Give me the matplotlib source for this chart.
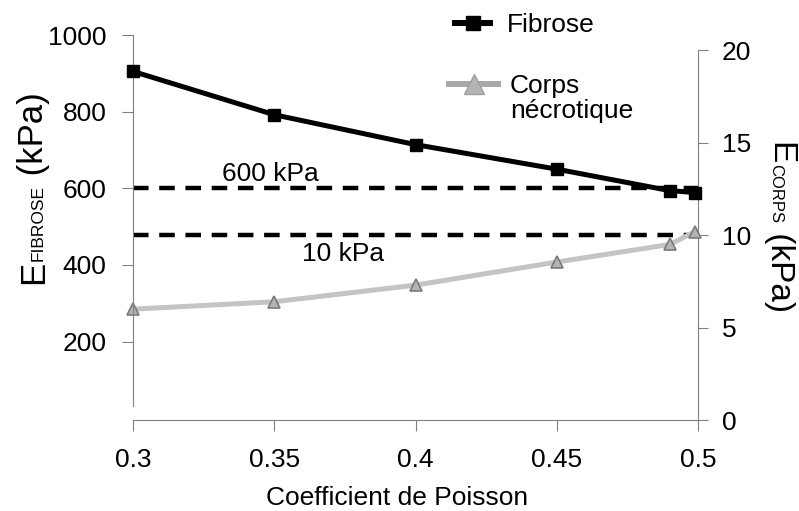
import matplotlib
matplotlib.use('Agg')
import matplotlib.pyplot as plt
from matplotlib.lines import Line2D

plt.rcParams['font.family'] = ['Liberation Sans', 'DejaVu Sans']

# ---- data ----
poisson = [0.3, 0.35, 0.4, 0.45, 0.49, 0.499]
e_fibrose = [905, 792, 714, 650, 594, 589]       # kPa, left axis
e_corps = [6.0, 6.4, 7.3, 8.55, 9.5, 10.2]       # kPa, right axis
seuil_fibrose = 600
seuil_corps = 10
x_ticks = [0.3, 0.35, 0.4, 0.45, 0.5]
x_tick_labels = ['0.3', '0.35', '0.4', '0.45', '0.5']
left_ticks = [200, 400, 600, 800, 1000]
right_ticks = [0, 5, 10, 15, 20]
x_range = (0.3, 0.5)

W, H = 799, 511
fig = plt.figure(figsize=(W / 100, H / 100), dpi=100)


def fx(px):
    return px / W


def fy(py):
    return (H - py) / H


L, R = 133, 698
gray = '#808080'
fs = 19

ax_r = fig.add_axes([fx(L), fy(420), fx(R) - fx(L), fy(50.5) - fy(420)])
ax_l = fig.add_axes([fx(L), fy(418.3), fx(R) - fx(L), fy(35) - fy(418.3)])
ax_l.patch.set_visible(False)

for ax in (ax_r, ax_l):
    ax.set_xlim(*x_range)
ax_r.set_ylim(0, 20)
ax_l.set_ylim(0, 1000)

# right / bottom axes
ax_r.spines['left'].set_visible(False)
ax_r.spines['top'].set_visible(False)
for s in ('right', 'bottom'):
    ax_r.spines[s].set_color(gray)
    ax_r.spines[s].set_linewidth(0.8)
ax_r.yaxis.tick_right()
ax_r.set_yticks(right_ticks)
ax_r.set_xticks(x_ticks, x_tick_labels)
ax_r.tick_params(axis='y', direction='out', length=7, width=0.8, color=gray,
                 pad=10, labelsize=fs)
ax_r.tick_params(axis='x', direction='out', length=8, width=0.8, color=gray,
                 pad=12, labelsize=fs)

# left axis
for s in ('top', 'right', 'bottom'):
    ax_l.spines[s].set_visible(False)
ax_l.spines['left'].set_color(gray)
ax_l.spines['left'].set_linewidth(0.8)
ax_l.spines['left'].set_bounds(32, 1000)
ax_l.set_yticks(left_ticks)
ax_l.set_xticks([])
ax_l.tick_params(axis='y', direction='out', length=8, width=0.8, color=gray,
                 pad=11, labelsize=fs)

# threshold lines
ax_l.plot(x_range, [seuil_fibrose] * 2, color='black', lw=3.2,
          dashes=(3.5, 2.4), zorder=1)
ax_r.plot(x_range, [seuil_corps] * 2, color='black', lw=3.2,
          dashes=(3.5, 2.4), zorder=1)

# series
ax_r.plot(poisson, e_corps, color='#c4c4c4', lw=3.6, marker='^', markersize=8,
          markerfacecolor='#b4b4b4', markeredgecolor='#7a7a7a',
          markeredgewidth=1.2, clip_on=False, zorder=3)
ax_l.plot(poisson, e_fibrose, color='black', lw=3.6, marker='s', markersize=8,
          clip_on=False, zorder=3)

# annotations
ax_l.text(0.3315, 618, '600 kPa', fontsize=fs, ha='left', va='baseline')
ax_r.text(0.3598, 8.62, '10 kPa', fontsize=fs, ha='left', va='baseline')

fig.text(fx(397), fy(505), 'Coefficient de Poisson', ha='center',
         va='baseline', fontsize=fs)


def stacked(pieces, x_px, y_px, rot):
    r = fig.canvas.get_renderer()
    pos = y_px
    for txt, size in pieces:
        t = fig.text(fx(x_px), fy(pos), txt, fontsize=size, rotation=rot,
                     rotation_mode='anchor', ha='left', va='baseline')
        bb = t.get_window_extent(r)
        if rot == 90:
            pos -= bb.height
        else:
            pos += bb.height


stacked([('E', 25), ('FIBROSE', 12.5), (' (kPa)', 25)], 43, 284, 90)
stacked([('E', 24), ('CORPS', 12), (' (kPa)', 24)], 771, 142, 270)

# legend
h1 = Line2D([], [], color='black', lw=4.3, marker='s', markersize=9.5)
leg1 = fig.legend(handles=[h1], labels=['Fibrose'], loc='center left',
                  bbox_to_anchor=(fx(455), fy(25)), frameon=False, borderpad=0,
                  borderaxespad=0, handlelength=1.33, handletextpad=0.64,
                  fontsize=fs)
h2 = Line2D([], [], color='#a8a8a8', lw=4.3, marker='^', markersize=14,
            markerfacecolor='#b4b4b4', markeredgecolor='#a0a0a0')
leg2 = fig.legend(handles=[h2], labels=['Corps'], loc='center left',
                  bbox_to_anchor=(fx(449), fy(86)), frameon=False, borderpad=0,
                  borderaxespad=0, handlelength=1.86, handletextpad=0.45,
                  fontsize=fs)
fig.text(fx(510), fy(118), 'nécrotique', fontsize=fs, ha='left',
         va='baseline')

fig.savefig('out.png', dpi=100)
